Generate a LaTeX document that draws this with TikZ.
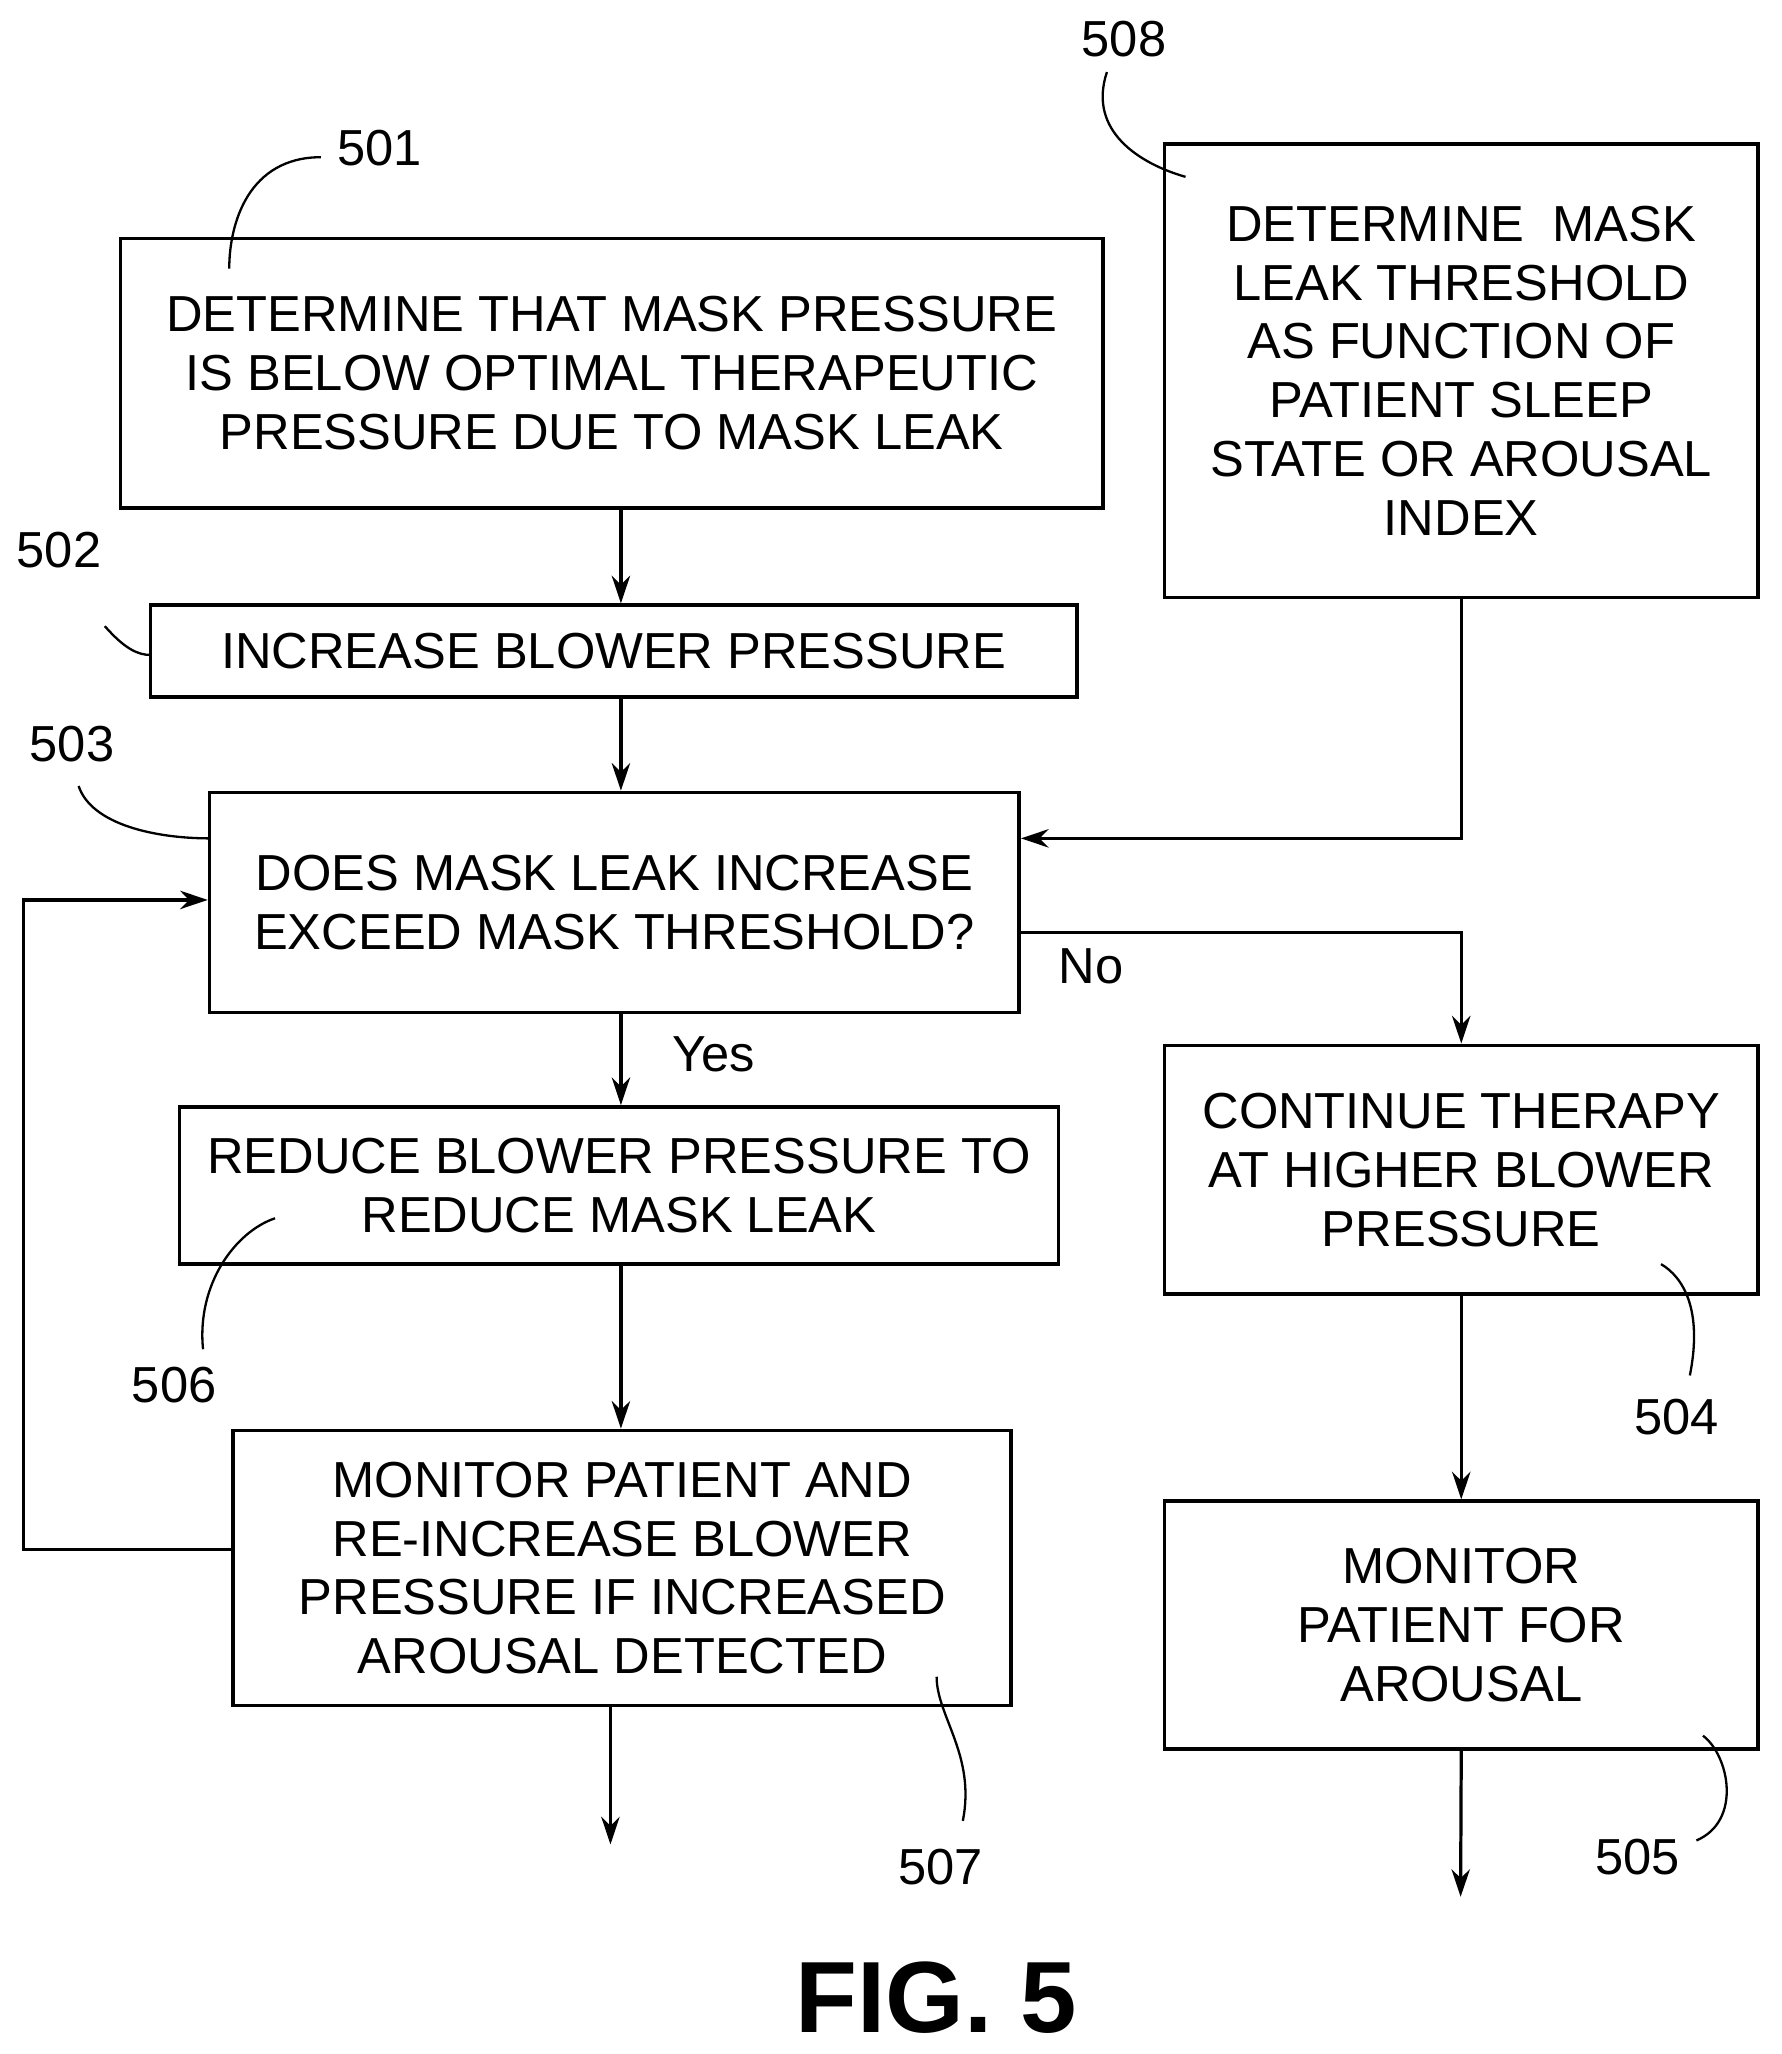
\documentclass[tikz,border=0pt]{standalone}
\usepackage{fontspec}
\setmainfont{Liberation Sans}
\usetikzlibrary{arrows.meta}
\tikzset{
  blk/.style={draw,line width=1.6pt,align=center,inner sep=0pt,
    font=\fontsize{22}{25.6}\selectfont},
  flow/.style={line width=1.4pt,-{Stealth[length=12pt,width=8pt]}},
  lead/.style={line width=1pt},
  ref/.style={font=\fontsize{22}{26}\selectfont}
}
\begin{document}
\begin{tikzpicture}[x=0.02cm,y=-0.02cm]
  \useasboundingbox (0,0) rectangle (1360,1568);
  % boxes
  \node[blk,minimum width=750*0.02cm,minimum height=206*0.02cm] (b501) at (467,285)
    {DETERMINE THAT MASK PRESSURE\\IS BELOW OPTIMAL THERAPEUTIC\\PRESSURE DUE TO MASK LEAK};
  \node[blk,minimum width=707*0.02cm,minimum height=70*0.02cm] (b502) at (468.5,497)
    {INCREASE BLOWER PRESSURE};
  \node[blk,minimum width=618*0.02cm,minimum height=168*0.02cm] (b503) at (469,689)
    {DOES MASK LEAK INCREASE\\EXCEED MASK THRESHOLD?};
  \node[blk,minimum width=671*0.02cm,minimum height=120*0.02cm] (b506) at (472.5,905)
    {REDUCE BLOWER PRESSURE TO\\REDUCE MASK LEAK};
  \node[blk,minimum width=594*0.02cm,minimum height=210*0.02cm] (b507) at (475,1197)
    {MONITOR PATIENT AND\\RE-INCREASE BLOWER\\PRESSURE IF INCREASED\\AROUSAL DETECTED};
  \node[blk,minimum width=453*0.02cm,minimum height=346*0.02cm] (b508) at (1115.5,283)
    {DETERMINE\ \ MASK\\LEAK THRESHOLD\\AS FUNCTION OF\\PATIENT SLEEP\\STATE OR AROUSAL\\INDEX};
  \node[blk,minimum width=453*0.02cm,minimum height=190*0.02cm] (b504) at (1115.5,893)
    {CONTINUE THERAPY\\AT HIGHER BLOWER\\PRESSURE};
  \node[blk,minimum width=453*0.02cm,minimum height=189*0.02cm] (b505) at (1115.5,1240.5)
    {MONITOR\\PATIENT FOR\\AROUSAL};
  % free ends
  \coordinate (end507) at (466,1408);
  \coordinate (end505) at (1115,1448);
  % connectors
  \draw[flow] (b501.south -| 474,0) -- (b502.north -| 474,0);
  \draw[flow] (b502.south -| 474,0) -- (b503.north -| 474,0);
  \draw[flow] (b503.south -| 474,0) -- (b506.north -| 474,0);
  \draw[flow] (b506.south -| 474,0) -- (b507.north -| 474,0);
  \draw[flow] (b507.south -| end507) -- (end507);
  \draw[flow] (b508.south) |- (b503.east |- 0,640);
  \draw[flow] (b503.east |- 0,712) -| (b504.north);
  \draw[flow] (b504.south) -- (b505.north);
  \draw[flow] (b505.south) -- (end505);
  \draw[flow] (b507.west |- 0,1183) -- (18,1183) |- (b503.west |- 0,687);
  \node[ref] (yes) at (545,805) {Yes};
  \node[ref] (no) at (833,738) {No};
  % reference numerals
  \node[ref] (n501) at (290,113) {501};
  \node[ref] (n502) at (45,420) {502};
  \node[ref] (n503) at (55,568) {503};
  \node[ref] (n506) at (133,1057) {506};
  \node[ref] (n507) at (718,1425) {507};
  \node[ref] (n508) at (858,30) {508};
  \node[ref] (n504) at (1280,1082) {504};
  \node[ref] (n505) at (1250,1418) {505};
  \draw[lead] (245,120) .. controls (190,120) and (175,170) .. (175,205);
  \draw[lead] (80,478) .. controls (95,495) and (105,500) .. (115,500);
  \draw[lead] (60,600) .. controls (70,630) and (120,640) .. (160,640);
  \draw[lead] (155,1030) .. controls (150,980) and (180,940) .. (210,930);
  \draw[lead] (735,1390) .. controls (745,1340) and (715,1310) .. (715,1280);
  \draw[lead] (845,55) .. controls (830,100) and (870,125) .. (905,135);
  \draw[lead] (1290,1050) .. controls (1300,1000) and (1285,975) .. (1268,965);
  \draw[lead] (1295,1405) .. controls (1330,1390) and (1320,1340) .. (1300,1325);
  \node[font=\fontsize{44}{50}\selectfont\bfseries] (fig) at (715,1525) {FIG. 5};
\end{tikzpicture}
\end{document}
